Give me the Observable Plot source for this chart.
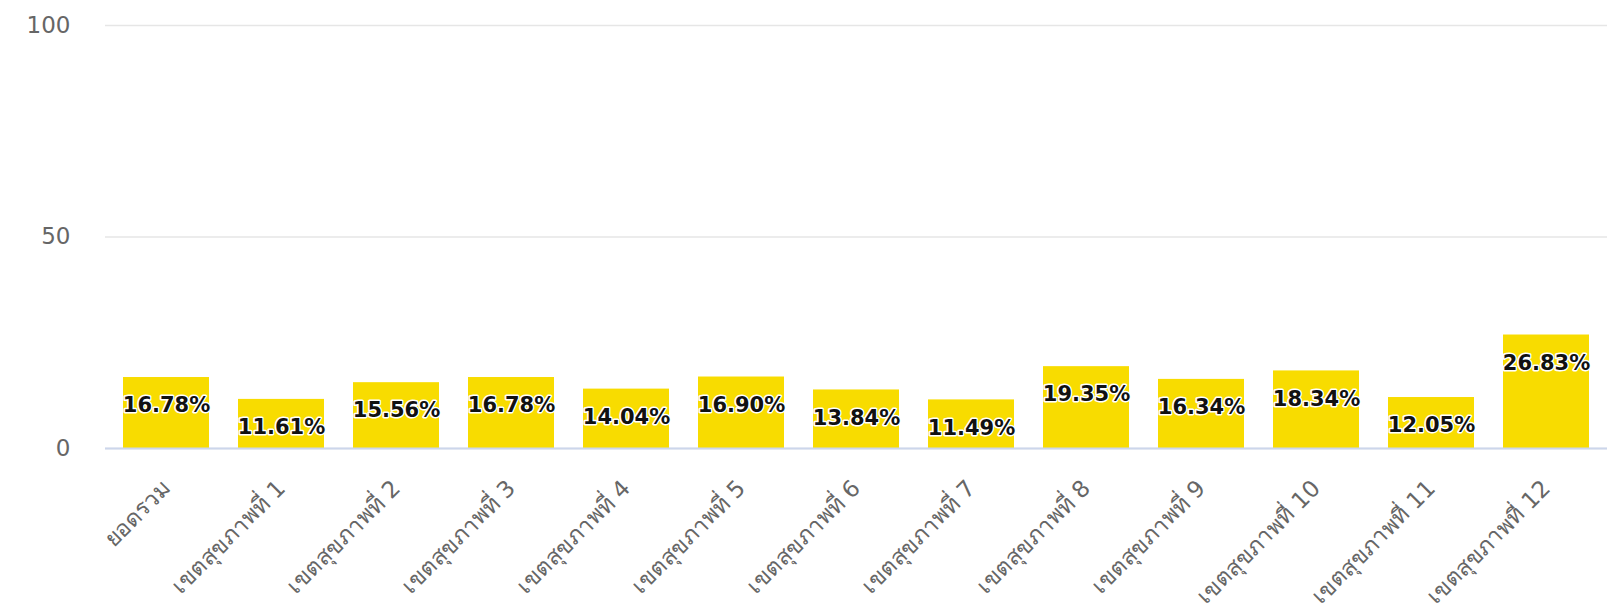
<!DOCTYPE html>
<html>
<head>
<meta charset="utf-8">
<script src="https://cdn.jsdelivr.net/npm/d3@7"></script>
<script src="https://cdn.jsdelivr.net/npm/@observablehq/plot@0.6"></script>
<style>
  html, body { margin: 0; padding: 0; background: #fff; }
  #chart svg { display: block; }
</style>
</head>
<body>
<div id="chart"></div>
<script>
const categories = ["ยอดรวม", "เขตสุขภาพที่ 1", "เขตสุขภาพที่ 2", "เขตสุขภาพที่ 3", "เขตสุขภาพที่ 4", "เขตสุขภาพที่ 5", "เขตสุขภาพที่ 6", "เขตสุขภาพที่ 7", "เขตสุขภาพที่ 8", "เขตสุขภาพที่ 9", "เขตสุขภาพที่ 10", "เขตสุขภาพที่ 11", "เขตสุขภาพที่ 12"];
const values = [16.78, 11.61, 15.56, 16.78, 14.04, 16.90, 13.84, 11.49, 19.35, 16.34, 18.34, 12.05, 26.83];
const yTicks = [0, 50, 100];

const data = categories.map((c, i) => ({category: c, value: values[i]}));

const chart = Plot.plot({
  width: 1622,
  height: 610,
  marginLeft: 105,
  marginRight: 15,
  marginTop: 25,
  marginBottom: 162,
  style: {fontFamily: "'DejaVu Sans', 'Noto Sans', sans-serif", background: "#fff"},
  x: {domain: categories, paddingInner: 0.25, paddingOuter: 0.14, label: null},
  y: {domain: [0, 100], label: null},
  marks: [
    Plot.gridY(yTicks, {stroke: "#e6e6e6", strokeOpacity: 1, strokeWidth: 1.5}),
    Plot.axisY(yTicks, {tickSize: 0, tickPadding: 35, fontSize: 23, fill: "#666", label: null}),
    Plot.axisX({tickSize: 0, tickPadding: 36, tickRotate: -45, fontSize: 23, fill: "#666", label: null}),
    Plot.barY(data, {x: "category", y: "value", fill: "#f8dc00"}),
    Plot.ruleY([0], {stroke: "#ccd6eb", strokeWidth: 2}),
    Plot.text(data, {x: "category", y: "value", text: d => d.value.toFixed(2) + "%", dy: 28, fontSize: 21, fontWeight: "bold", fill: "#111", stroke: "#fff", strokeWidth: 3, paintOrder: "stroke"})
  ]
});
document.getElementById("chart").appendChild(chart);
</script>
</body>
</html>
